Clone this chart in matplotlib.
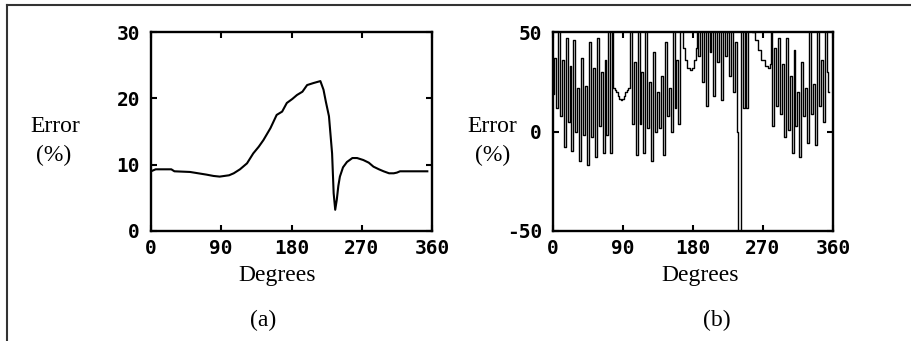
import numpy as np
import matplotlib.pyplot as plt
from matplotlib.lines import Line2D

# panel (a): smooth error curve
deg_a = [0, 6, 12, 26, 30, 50, 71, 80, 88, 100, 106, 114, 123, 131, 138, 144, 153,
         161, 168, 174, 181, 187, 194, 200, 208, 217, 221, 224, 228, 230, 232, 234,
         236, 238, 240, 242, 246, 251, 258, 264, 272, 279, 285, 292, 298, 305, 311,
         315, 319, 330, 345, 354]
err_a = [9.0, 9.3, 9.3, 9.3, 9.0, 8.9, 8.5, 8.3, 8.2, 8.4, 8.7, 9.3, 10.2, 11.7, 12.7,
         13.7, 15.5, 17.5, 18.0, 19.3, 19.9, 20.5, 21.0, 22.0, 22.3, 22.6, 21.3, 19.5,
         17.3, 14.5, 11.7, 5.7, 3.2, 4.7, 6.8, 8.2, 9.6, 10.4, 11.0, 11.0, 10.7, 10.3,
         9.7, 9.3, 9.0, 8.7, 8.7, 8.8, 9.0, 9.0, 9.0, 9.0]

# panel (b): oscillating error curve (values above 50 / below -50 run off the frame)
deg_b = [0, 2.5, 5, 7.5, 10, 12.5, 15, 17.5, 20, 22.5, 25, 27.5, 30, 32.5, 35, 37.5,
         40, 42.5, 45, 47.5, 50, 52.5, 55, 57.5, 60, 62.5, 65, 67.5, 70, 72.5, 75, 77,
         78.5, 80, 82, 84, 86, 88, 90, 92, 94, 96,
         98, 100, 102.5, 105, 107.5, 110, 112.5, 115, 117.5, 120, 122.5, 125, 127.5,
         130, 132.5, 135, 137.5, 140, 142.5, 145, 147.5, 150, 152.5, 155, 157.5, 160,
         162.5, 165, 168, 171, 174, 177, 180, 183, 185,
         186, 188, 190, 192.5, 195, 197.5, 200, 202.5, 205, 207.5, 210, 212.5, 215,
         217.5, 220, 222.5, 225, 227.5, 230, 232.5, 235, 237.5, 239, 241, 242.5, 245,
         247.5, 250, 252, 255, 258, 262, 266, 270, 274, 278, 280,
         281, 283, 285.5, 288, 290.5, 293, 295.5, 298, 300.5, 303, 305.5, 308, 310.5,
         313, 315.5, 318, 320.5, 323, 325.5, 328, 330.5, 333, 335.5, 338, 340.5, 343,
         345.5, 348, 350.5, 353, 355]
err_b = [19, 37, 12, 55, 8, 36, -8, 47, 5, 33, -10, 46, 0, 22, -15, 37,
         -2, 23, -17, 45, -3, 32, -13, 47, 3, 30, -11, 36, -2, 55, -11, 55,
         22, 21, 20, 18, 16.5, 16, 16.5, 18, 20, 21,
         22, 55, 4, 35, -12, 55, 4, 30, -11, 55, 2, 25, -15,
         40, 0, 20, 2, 28, -12, 45, 8, 22, 0, 55, 12, 36,
         4, 55, 42, 36, 32, 31, 32, 36, 42,
         55, 38, 55, 25, 55, 13, 55, 40, 55, 18, 55, 35, 55,
         16, 55, 38, 50, 28, 55, 20, 45, 0, -60, -60, 55, 12,
         55, 12, 55, 55, 50, 46, 41, 36, 33, 32, 34,
         55, 3, 42, 13, 47, 9, 34, -3, 47, 1, 28, -11, 41,
         3, 20, -13, 35, 8, 22, -6, 55, 9, 24, -7, 55, 13,
         36, 5, 55, 30, 20]

xticks = [0, 90, 180, 270, 360]
yticks_a = [0, 10, 20, 30]
yticks_b = [-50, 0, 50]

serif = 'Liberation Serif'
tickfont = {'family': 'DejaVu Sans Mono', 'size': 14, 'weight': 'bold'}

fig = plt.figure(figsize=(9.12, 3.41), dpi=100)

# outer frame of the scanned figure
fig.add_artist(Line2D([7.5 / 912, 1.0], [1 - 4.5 / 341, 1 - 4.5 / 341],
                      transform=fig.transFigure, color='#333333', lw=1.5))
fig.add_artist(Line2D([7.5 / 912, 7.5 / 912], [0.0, 1 - 4.5 / 341],
                      transform=fig.transFigure, color='#333333', lw=1.5))

ax_a = fig.add_axes([151 / 912, 1 - 231 / 341, 281 / 912, 199 / 341])
ax_b = fig.add_axes([553 / 912, 1 - 231 / 341, 280 / 912, 199 / 341])

ax_a.plot(deg_a, err_a, color='black', lw=1.5)
ax_b.step(deg_b, err_b, where='mid', color='black', lw=1.0)

for ax, yt, lims in [(ax_a, yticks_a, (0, 30)), (ax_b, yticks_b, (-50, 50))]:
    ax.set_xlim(0, 360)
    ax.set_ylim(*lims)
    ax.set_xticks(xticks)
    ax.set_yticks(yt)
    ax.set_xticklabels([str(t) for t in xticks], fontdict=tickfont)
    ax.set_yticklabels([str(t) for t in yt], fontdict=tickfont)
    ax.tick_params(direction='in', length=4, width=1.5, top=True, right=True,
                   pad=6, colors='black')
    ax.tick_params(axis='y', pad=8)
    for s in ax.spines.values():
        s.set_linewidth(1.7)

# labels
fig.text(55 / 912, 1 - 127 / 341, 'Error', family=serif, size=17, ha='center', va='center')
fig.text(54 / 912, 1 - 155 / 341, '(%)', family=serif, size=17, ha='center', va='center')
fig.text(277 / 912, 1 - 275 / 341, 'Degrees', family=serif, size=17, ha='center', va='center')
fig.text(263 / 912, 1 - 320 / 341, '(a)', family=serif, size=17, ha='center', va='center')

fig.text(492 / 912, 1 - 126 / 341, 'Error', family=serif, size=17, ha='center', va='center')
fig.text(493 / 912, 1 - 155 / 341, '(%)', family=serif, size=17, ha='center', va='center')
fig.text(700 / 912, 1 - 275 / 341, 'Degrees', family=serif, size=17, ha='center', va='center')
fig.text(717 / 912, 1 - 320 / 341, '(b)', family=serif, size=17, ha='center', va='center')

fig.savefig('out.png', dpi=100)
